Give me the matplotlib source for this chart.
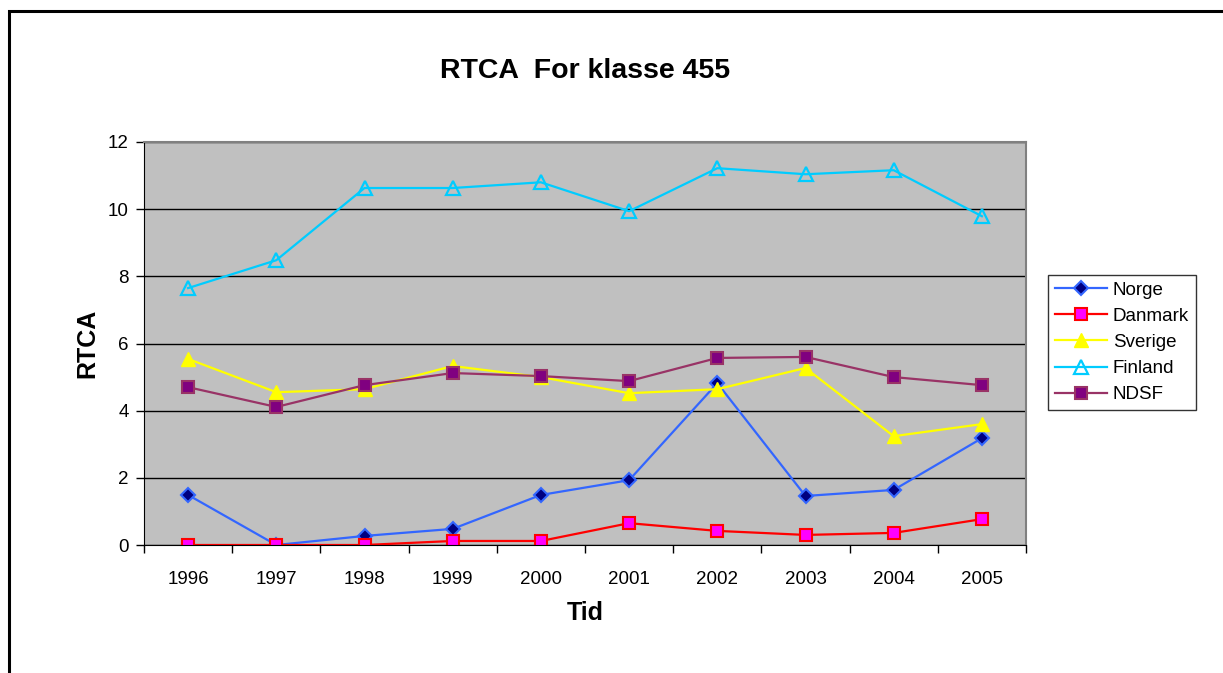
import numpy as np
import matplotlib.pyplot as plt
from matplotlib.patches import Rectangle

plt.rcParams['font.family'] = ['Liberation Sans', 'DejaVu Sans']

# --------------------------------------------------
# Data
# --------------------------------------------------
years = ["1996", "1997", "1998", "1999", "2000", "2001", "2002", "2003", "2004", "2005"]

norge = [1.49, 0.0, 0.27, 0.48, 1.49, 1.93, 4.82, 1.46, 1.64, 3.18]
danmark = [0.0, 0.0, 0.0, 0.12, 0.12, 0.65, 0.42, 0.30, 0.36, 0.77]
sverige = [5.54, 4.55, 4.64, 5.33, 5.00, 4.52, 4.64, 5.27, 3.24, 3.60]
finland = [7.65, 8.48, 10.63, 10.63, 10.80, 9.94, 11.22, 11.04, 11.16, 9.79]
ndsf = [4.70, 4.11, 4.76, 5.12, 5.03, 4.88, 5.57, 5.60, 5.00, 4.76]

# --------------------------------------------------
# Plot
# --------------------------------------------------
fig = plt.figure(figsize=(12.23, 6.73), dpi=100)

# outer chart frame (runs off the right/bottom edge)
fig.patches.append(Rectangle((9 / 1223, -0.1), 1.2, 1.1 - 11 / 673,
                             transform=fig.transFigure, fill=False,
                             edgecolor="black", linewidth=2.2))

ax = fig.add_axes([144 / 1223, 128 / 673, 882 / 1223, 403 / 673])
ax.set_facecolor("#C0C0C0")

x = np.arange(len(years))

ax.plot(x, norge, color="#3366FF", lw=1.6, marker="D", ms=7.5,
        mfc="#000080", mec="#3366FF", mew=1.5, label="Norge")
ax.plot(x, danmark, color="#FF0000", lw=1.6, marker="s", ms=8,
        mfc="#FF00FF", mec="#FF0000", mew=1.5, label="Danmark")
ax.plot(x, sverige, color="#FFFF00", lw=1.6, marker="^", ms=10,
        mfc="#FFFF00", mec="#FFFF00", mew=1.0, label="Sverige")
ax.plot(x, finland, color="#00CCFF", lw=1.6, marker="^", ms=10,
        mfc="none", mec="#00CCFF", mew=1.6, label="Finland")
ax.plot(x, ndsf, color="#993366", lw=1.6, marker="s", ms=8,
        mfc="#800080", mec="#993366", mew=1.5, label="NDSF")

ax.set_xlim(-0.5, len(years) - 0.5)
ax.set_ylim(0, 12)
ax.set_yticks(range(0, 13, 2))
ax.set_xticks(x)
ax.set_xticklabels(years)
ax.set_xticks(np.arange(-0.5, len(years), 1), minor=True)
ax.tick_params(axis="x", which="major", length=0, labelsize=13.5, pad=19)
ax.tick_params(axis="x", which="minor", length=6, width=1, direction="out")
ax.tick_params(axis="y", length=6, width=1, direction="out", labelsize=13.5, pad=5)

ax.grid(axis="y", color="black", lw=1)
ax.set_axisbelow(True)
for side in ["top", "right"]:
    ax.spines[side].set_color("#808080")
    ax.spines[side].set_linewidth(1.5)
ax.spines["left"].set_color("black")
ax.spines["bottom"].set_color("black")

ax.set_title("RTCA  For klasse 455", fontsize=20.5, fontweight="bold", pad=46)
ax.set_xlabel("Tid", fontsize=18, fontweight="bold", labelpad=9)
ax.set_ylabel("RTCA", fontsize=18, fontweight="bold", labelpad=6)

leg = fig.legend(loc="upper left", bbox_to_anchor=(1048 / 1223, 1 - 275 / 673),
                 fontsize=13.5, frameon=True, fancybox=False, edgecolor="black",
                 handlelength=2.8, labelspacing=0.48, borderpad=0.35,
                 handletextpad=0.3, borderaxespad=0)
leg.get_frame().set_linewidth(1.0)

fig.savefig("out.png", dpi=100)
